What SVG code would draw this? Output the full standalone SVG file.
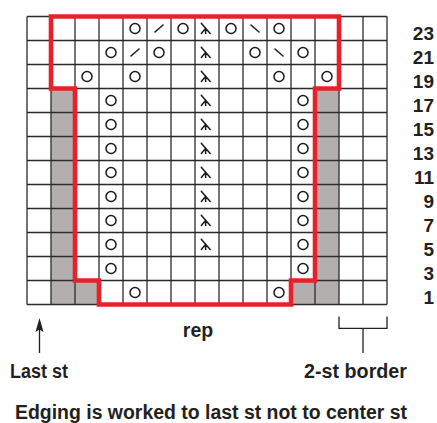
<svg xmlns="http://www.w3.org/2000/svg" xmlns:xlink="http://www.w3.org/1999/xlink" width="437" height="423" viewBox="0 0 437 423">
  <style>
    .grid line { stroke: #2b2b2b; stroke-width: 1.3; }
    .gray { fill: #b4afaf; }
    .sym { fill: none; stroke: #1a1a1a; stroke-width: 1.5; stroke-linecap: round; }
    .red { fill: none; stroke: #e8202a; stroke-width: 4.6; stroke-linejoin: miter; }
    .lbl { font-family: "Liberation Sans", Arial, sans-serif; font-weight: bold; font-size: 19.5px; fill: #231f20; }
    .rownum { text-anchor: end; font-size: 19px; }
    .conn { fill: none; stroke: #231f20; stroke-width: 1.3; }
  </style>
  <defs>
    <circle id="yo" r="5" class="sym"/>
    <path id="k2tog" d="M-4,3.5 L4,-3.5" class="sym"/>
    <path id="ssk" d="M-4,-3.5 L4,3.5" class="sym"/>
    <path id="cdd" d="M-5.7,-5.2 L3.2,5 M-1.3,-0.1 L-5.7,5 M-1.3,-0.1 L-1.3,5" class="sym"/>
  </defs>
  <rect x="0" y="0" width="437" height="423" fill="#ffffff"/>

  <g id="chart">
    <g id="shaded">
      <rect class="gray" x="51" y="88.5" width="24" height="216"/>
      <rect class="gray" x="75" y="280.5" width="24" height="24"/>
      <rect class="gray" x="315" y="88.5" width="24" height="216"/>
      <rect class="gray" x="291" y="280.5" width="24" height="24"/>
    </g>
    <g id="grid" class="grid">
      <line x1="27" y1="16.5" x2="27" y2="304.5"/>
      <line x1="51" y1="16.5" x2="51" y2="304.5"/>
      <line x1="75" y1="16.5" x2="75" y2="304.5"/>
      <line x1="99" y1="16.5" x2="99" y2="304.5"/>
      <line x1="123" y1="16.5" x2="123" y2="304.5"/>
      <line x1="147" y1="16.5" x2="147" y2="304.5"/>
      <line x1="171" y1="16.5" x2="171" y2="304.5"/>
      <line x1="195" y1="16.5" x2="195" y2="304.5"/>
      <line x1="219" y1="16.5" x2="219" y2="304.5"/>
      <line x1="243" y1="16.5" x2="243" y2="304.5"/>
      <line x1="267" y1="16.5" x2="267" y2="304.5"/>
      <line x1="291" y1="16.5" x2="291" y2="304.5"/>
      <line x1="315" y1="16.5" x2="315" y2="304.5"/>
      <line x1="339" y1="16.5" x2="339" y2="304.5"/>
      <line x1="363" y1="16.5" x2="363" y2="304.5"/>
      <line x1="387" y1="16.5" x2="387" y2="304.5"/>
      <line x1="27" y1="16.5" x2="387" y2="16.5"/>
      <line x1="27" y1="40.5" x2="387" y2="40.5"/>
      <line x1="27" y1="64.5" x2="387" y2="64.5"/>
      <line x1="27" y1="88.5" x2="387" y2="88.5"/>
      <line x1="27" y1="112.5" x2="387" y2="112.5"/>
      <line x1="27" y1="136.5" x2="387" y2="136.5"/>
      <line x1="27" y1="160.5" x2="387" y2="160.5"/>
      <line x1="27" y1="184.5" x2="387" y2="184.5"/>
      <line x1="27" y1="208.5" x2="387" y2="208.5"/>
      <line x1="27" y1="232.5" x2="387" y2="232.5"/>
      <line x1="27" y1="256.5" x2="387" y2="256.5"/>
      <line x1="27" y1="280.5" x2="387" y2="280.5"/>
      <line x1="27" y1="304.5" x2="387" y2="304.5"/>
    </g>
    <g id="symbols">
      <!-- row 23 -->
      <use href="#yo" x="135" y="28.5"/>
      <use href="#k2tog" x="159" y="28.5"/>
      <use href="#yo" x="183" y="28.5"/>
      <use href="#cdd" x="207" y="28.5"/>
      <use href="#yo" x="231" y="28.5"/>
      <use href="#ssk" x="255" y="28.5"/>
      <use href="#yo" x="279" y="28.5"/>
      <!-- row 21 -->
      <use href="#yo" x="111" y="52.5"/>
      <use href="#k2tog" x="135" y="52.5"/>
      <use href="#yo" x="159" y="52.5"/>
      <use href="#cdd" x="207" y="52.5"/>
      <use href="#yo" x="255" y="52.5"/>
      <use href="#ssk" x="279" y="52.5"/>
      <use href="#yo" x="303" y="52.5"/>
      <!-- row 19 -->
      <use href="#yo" x="87" y="76.5"/>
      <use href="#yo" x="135" y="76.5"/>
      <use href="#cdd" x="207" y="76.5"/>
      <use href="#yo" x="279" y="76.5"/>
      <use href="#yo" x="327" y="76.5"/>
      <!-- rows 17 to 5 -->
      <use href="#yo" x="111" y="100.5"/><use href="#cdd" x="207" y="100.5"/><use href="#yo" x="303" y="100.5"/>
      <use href="#yo" x="111" y="124.5"/><use href="#cdd" x="207" y="124.5"/><use href="#yo" x="303" y="124.5"/>
      <use href="#yo" x="111" y="148.5"/><use href="#cdd" x="207" y="148.5"/><use href="#yo" x="303" y="148.5"/>
      <use href="#yo" x="111" y="172.5"/><use href="#cdd" x="207" y="172.5"/><use href="#yo" x="303" y="172.5"/>
      <use href="#yo" x="111" y="196.5"/><use href="#cdd" x="207" y="196.5"/><use href="#yo" x="303" y="196.5"/>
      <use href="#yo" x="111" y="220.5"/><use href="#cdd" x="207" y="220.5"/><use href="#yo" x="303" y="220.5"/>
      <use href="#yo" x="111" y="244.5"/><use href="#cdd" x="207" y="244.5"/><use href="#yo" x="303" y="244.5"/>
      <!-- row 3 -->
      <use href="#yo" x="111" y="268.5"/>
      <use href="#yo" x="303" y="268.5"/>
      <!-- row 1 -->
      <use href="#yo" x="135" y="292.5"/>
      <use href="#yo" x="279" y="292.5"/>
    </g>
    <path id="rep-outline" class="red" d="M51,16.5 H339 V88.5 H315 V280.5 H291 V304.5 H99 V280.5 H75 V88.5 H51 Z"/>
  </g>

  <g id="row-numbers" class="lbl rownum">
    <text x="434" y="40">23</text>
    <text x="434" y="64">21</text>
    <text x="434" y="88">19</text>
    <text x="434" y="112">17</text>
    <text x="434" y="136">15</text>
    <text x="434" y="160">13</text>
    <text x="434" y="184">11</text>
    <text x="434" y="208">9</text>
    <text x="434" y="232">7</text>
    <text x="434" y="256">5</text>
    <text x="434" y="280">3</text>
    <text x="434" y="304">1</text>
  </g>

  <g id="connectors">
    <line class="conn" x1="39.5" y1="353" x2="39.5" y2="328"/>
    <polygon points="39.5,318 35.5,332 39.5,329.5 43.5,332" fill="#231f20"/>
    <path class="conn" d="M339,316.5 V328.3 H387 V316.5 M363,328.3 V353"/>
  </g>

  <g id="label-rep"><text class="lbl" x="198" y="337" text-anchor="middle">rep</text></g>
  <g id="label-last"><text class="lbl" x="10" y="378" textLength="58" lengthAdjust="spacingAndGlyphs">Last st</text></g>
  <g id="label-border"><text class="lbl" x="304" y="378" textLength="103" lengthAdjust="spacingAndGlyphs">2-st border</text></g>
  <g id="label-note"><text class="lbl" x="15" y="418.5" textLength="392" lengthAdjust="spacingAndGlyphs">Edging is worked to last st not to center st</text></g>
</svg>
